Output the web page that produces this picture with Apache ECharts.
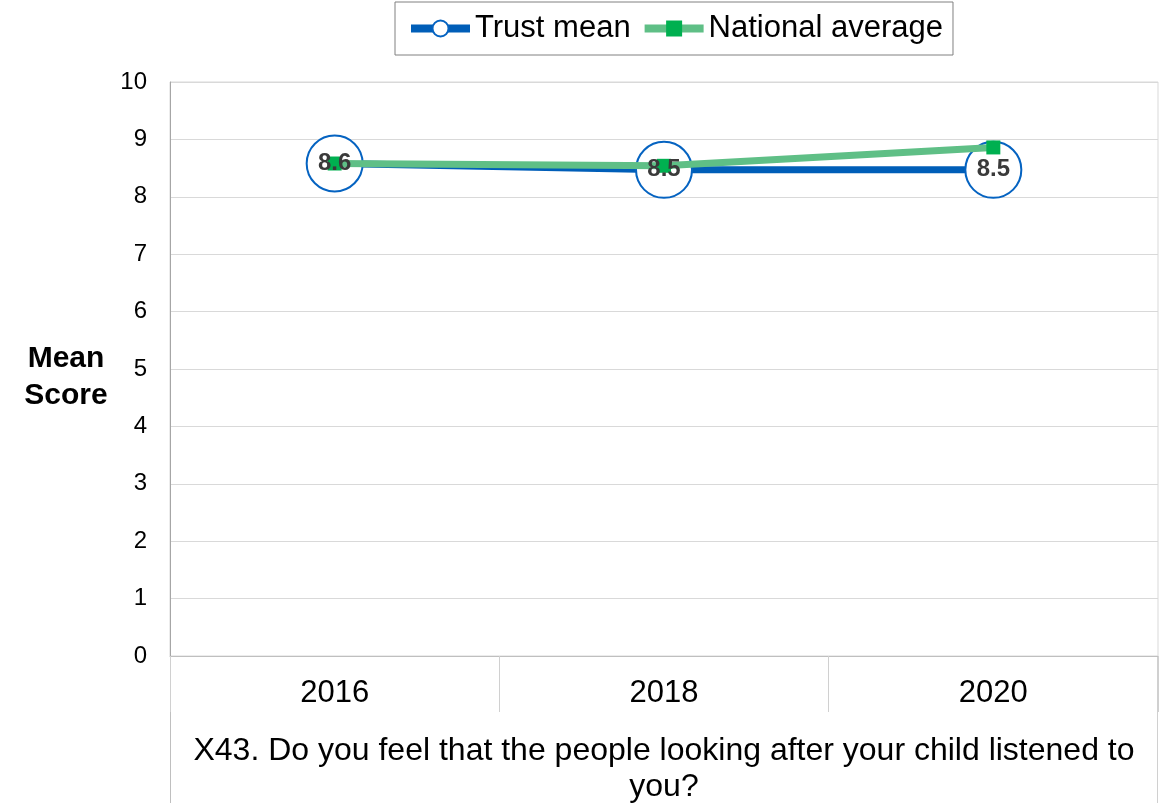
<!DOCTYPE html>
<html>
<head>
<meta charset="utf-8">
<style>
  html, body { margin: 0; padding: 0; background: #fff; }
  #chart { width: 1163px; height: 803px; }
</style>
<script src="https://cdn.jsdelivr.net/npm/echarts@6/dist/echarts.min.js"></script>
</head>
<body>
<div id="chart"></div>
<script>
// data
const years = ['2016', '2018', '2020']
const trustMean = [8.58, 8.47, 8.47]
const trustLabels = ['8.6', '8.5', '8.5']
const nationalAverage = [8.58, 8.54, 8.86]
const yTicks = [0, 1, 2, 3, 4, 5, 6, 7, 8, 9, 10]
const questionText = 'X43. Do you feel that the people looking after your child listened to\nyou?'

const font = '"Liberation Sans", Arial, sans-serif'
const grid = { left: 170, right: 5, top: 82, bottom: 147 }

const chart = echarts.init(document.getElementById('chart'))

const option = {
  animation: false,
  textStyle: { fontFamily: font },
  legend: {
    data: [
      {
        name: 'Trust mean',
        itemStyle: { color: '#fff', borderColor: '#0563C1', borderWidth: 2 },
        lineStyle: { color: '#005EB8', width: 8 }
      },
      {
        name: 'National average',
        itemStyle: { color: '#00B050' },
        lineStyle: { color: '#5FBF86', width: 8 }
      }
    ],
    left: 395,
    top: 2,
    padding: [11, 10, 11, 12],
    itemGap: 10,
    itemWidth: 59,
    itemHeight: 20,
    borderColor: '#808080',
    borderWidth: 1,
    textStyle: { fontSize: 31, color: '#000', fontFamily: font }
  },
  grid: {
    ...grid,
    outerBoundsMode: 'none',
    show: true,
    borderColor: '#D9D9D9',
    borderWidth: 1
  },
  xAxis: {
    type: 'category',
    data: years,
    boundaryGap: true,
    axisLine: { lineStyle: { color: '#BFBFBF', width: 1 } },
    axisTick: { show: true, length: 56, lineStyle: { color: '#D0D0D0' } },
    axisLabel: { fontSize: 31, color: '#000', margin: 22, fontFamily: font },
    name: questionText,
    nameLocation: 'middle',
    nameGap: 77,
    nameTextStyle: { fontSize: 32, color: '#000', lineHeight: 36, fontFamily: font }
  },
  yAxis: {
    type: 'value',
    min: yTicks[0],
    max: yTicks[yTicks.length - 1],
    interval: 1,
    axisLine: { show: true, lineStyle: { color: '#A6A6A6' } },
    axisTick: { show: false },
    axisLabel: { fontSize: 24, color: '#000', margin: 23, fontFamily: font },
    splitLine: { lineStyle: { color: '#D9D9D9' } },
    // small spacer line on top pushes the two-line name down a little
    name: '{s| }\n{b|Mean}\n{b|Score}',
    nameLocation: 'middle',
    nameRotate: 0,
    nameGap: 104,
    nameTextStyle: {
      align: 'center',
      fontFamily: font,
      rich: {
        s: { fontSize: 10, lineHeight: 16, height: 16 },
        b: { fontSize: 30, fontWeight: 'bold', color: '#000', lineHeight: 37, fontFamily: font }
      }
    }
  },
  series: [
    {
      name: 'Trust mean',
      type: 'line',
      data: trustMean,
      z: 2,
      symbol: 'circle',
      symbolSize: 56,
      lineStyle: { color: '#005EB8', width: 7 },
      itemStyle: { color: '#fff', borderColor: '#0563C1', borderWidth: 2 }
    },
    {
      name: 'National average',
      type: 'line',
      data: nationalAverage,
      z: 3,
      symbol: 'rect',
      symbolSize: 14,
      lineStyle: { color: '#5FBF86', width: 7 },
      itemStyle: { color: '#00B050' }
    },
    {
      // labels for the trust mean, kept above the green line
      name: 'labels',
      type: 'scatter',
      data: trustMean,
      z: 10,
      silent: true,
      symbolSize: 1,
      itemStyle: { color: 'transparent', opacity: 1 },
      label: {
        show: true,
        position: 'inside',
        formatter: p => trustLabels[p.dataIndex],
        fontSize: 24,
        fontWeight: 'bold',
        color: '#3A3A3A',
        textBorderWidth: 0,
        opacity: 1,
        fontFamily: font
      }
    }
  ],
  graphic: [
    {
      type: 'line',
      shape: { x1: grid.left + 0.5, y1: 803 - grid.bottom, x2: grid.left + 0.5, y2: 803 },
      style: { stroke: '#BFBFBF', lineWidth: 1 }
    },
    {
      type: 'line',
      shape: { x1: 1163 - grid.right - 0.5, y1: 803 - grid.bottom, x2: 1163 - grid.right - 0.5, y2: 803 },
      style: { stroke: '#D0D0D0', lineWidth: 1 }
    }
  ]
}

chart.setOption(option)
</script>
</body>
</html>
